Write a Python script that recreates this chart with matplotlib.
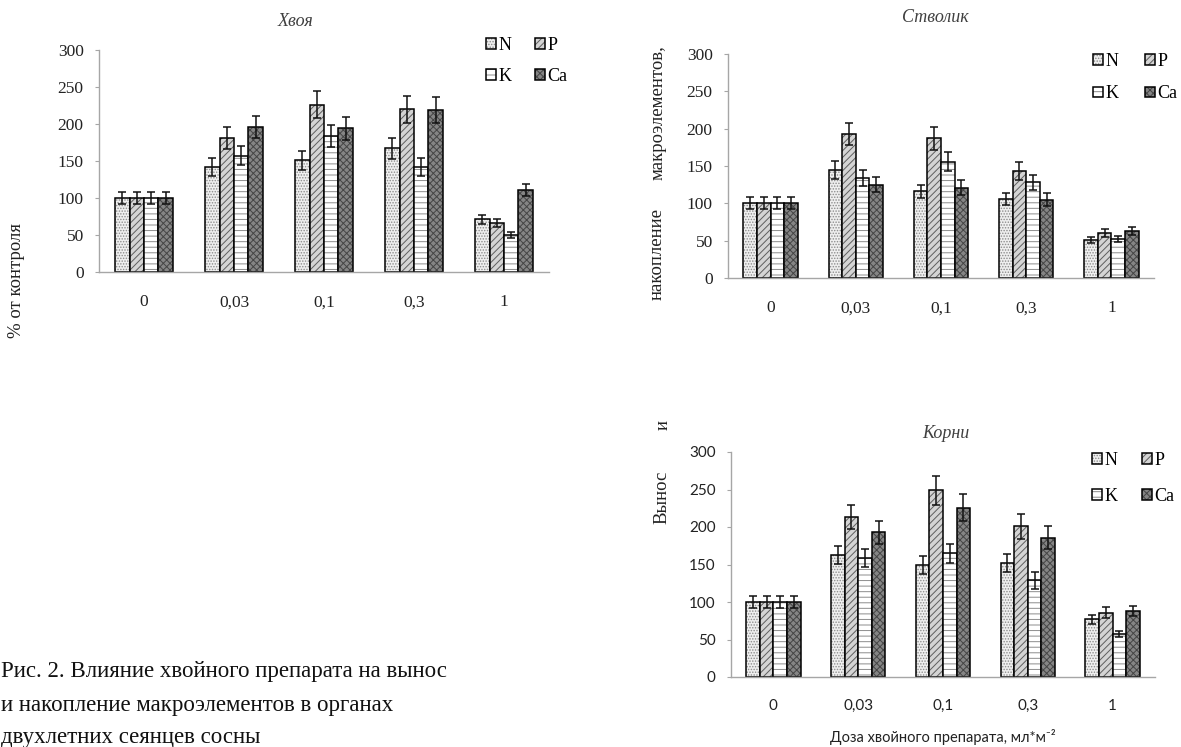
import matplotlib
matplotlib.use('Agg')
import matplotlib.pyplot as plt

# Категории (доза хвойного препарата, мл*м-2)
categories = ['0', '0,03', '0,1', '0,3', '1']
elements = ['N', 'P', 'K', 'Ca']

# Хвоя, % от контроля
needle_N = [100, 142, 151, 167, 71]
needle_P = [100, 181, 226, 220, 66]
needle_K = [100, 157, 184, 142, 50]
needle_Ca = [100, 196, 194, 219, 111]
needle_N_err = [8, 12, 13, 14, 6]
needle_P_err = [8, 15, 18, 18, 5]
needle_K_err = [8, 13, 15, 12, 4]
needle_Ca_err = [8, 15, 15, 17, 8]

# Стволик
stem_N = [100, 145, 116, 106, 51]
stem_P = [100, 193, 187, 143, 60]
stem_K = [100, 134, 156, 128, 52]
stem_Ca = [100, 125, 121, 105, 63]
stem_N_err = [8, 12, 9, 8, 4]
stem_P_err = [8, 15, 15, 12, 5]
stem_K_err = [8, 11, 13, 10, 4]
stem_Ca_err = [8, 10, 10, 9, 5]

# Корни
root_N = [100, 163, 149, 152, 77]
root_P = [100, 213, 249, 201, 86]
root_K = [100, 159, 165, 129, 57]
root_Ca = [100, 193, 226, 186, 88]
root_N_err = [8, 12, 12, 12, 6]
root_P_err = [8, 16, 19, 17, 7]
root_K_err = [8, 12, 13, 11, 4]
root_Ca_err = [8, 15, 18, 15, 7]

# Заливка и штриховка для каждого элемента: (фон, штриховка, цвет штриховки)
styles = [
    ('#efefef', '......', '#8c8c8c'),
    ('#d4d4d4', '/////', '#5e5e5e'),
    ('#ffffff', '---', '#8c8c8c'),
    ('#858585', 'xxxxx', '#454545'),
]

W, H = 1181, 747
SERIF = 'Liberation Serif'
SANS = 'Lato'

plt.rcParams['hatch.linewidth'] = 0.7


def fx(px):
    return px / W


def fy(py):
    return 1 - py / H


def draw_chart(fig, rect, series, errors, title, title_pos, legend_pos,
               legend_spacing, col_spacing, tick_font, tick_size):
    """Один график со сгруппированными столбцами и планками погрешностей"""
    left, top, right, bottom = rect
    ax = fig.add_axes([fx(left), fy(bottom), fx(right - left), (bottom - top) / H])
    width = 0.16
    x = list(range(len(categories)))
    handles = []
    for i, (vals, errs) in enumerate(zip(series, errors)):
        face, hatch, hcol = styles[i]
        pos = [xi + (i - 1.5) * width for xi in x]
        b1 = ax.bar(pos, vals, width, color=face, hatch=hatch,
                    edgecolor=hcol, linewidth=0)
        b2 = ax.bar(pos, vals, width, fill=False, edgecolor='black',
                    linewidth=1.1, yerr=errs, capsize=3,
                    error_kw=dict(elinewidth=1.1, capthick=1.1, ecolor='#111111'))
        handles.append((b1[0], b2[0]))

    ax.set_xlim(-0.5, len(categories) - 0.5)
    ax.set_ylim(0, 300)
    ax.set_yticks(range(0, 301, 50))
    ax.set_xticks(x)
    ax.set_xticklabels(categories)
    for s in ['top', 'right']:
        ax.spines[s].set_visible(False)
    for s in ['left', 'bottom']:
        ax.spines[s].set_color('#a6a6a6')
        ax.spines[s].set_linewidth(1)
    ax.tick_params(axis='y', length=3, color='#a6a6a6', pad=8)
    ax.tick_params(axis='x', length=0, pad=16)
    for lab in ax.get_xticklabels() + ax.get_yticklabels():
        lab.set_family(tick_font)
        lab.set_fontsize(tick_size)
        lab.set_color('#222222')

    fig.text(fx(title_pos[0]), fy(title_pos[1]), title, family=SERIF,
             style='italic', fontsize=13, color='#404040',
             ha='center', va='center')

    order = [0, 2, 1, 3]
    ax.legend([handles[k] for k in order], [elements[k] for k in order],
              ncol=2, frameon=False, loc='upper left',
              bbox_to_anchor=(fx(legend_pos[0]), fy(legend_pos[1])),
              bbox_transform=fig.transFigure, borderpad=0, borderaxespad=0,
              handlelength=0.55, handleheight=0.55, handletextpad=0.15,
              labelspacing=legend_spacing, columnspacing=col_spacing,
              prop={'family': SERIF, 'size': 13})
    return ax


fig = plt.figure(figsize=(W / 100, H / 100), dpi=100)

draw_chart(fig, (99, 50, 549, 272),
           [needle_N, needle_P, needle_K, needle_Ca],
           [needle_N_err, needle_P_err, needle_K_err, needle_Ca_err],
           'Хвоя', (295, 22), (486, 37), 0.75, 1.3, SERIF, 12.5)

draw_chart(fig, (728, 54, 1154, 278),
           [stem_N, stem_P, stem_K, stem_Ca],
           [stem_N_err, stem_P_err, stem_K_err, stem_Ca_err],
           'Стволик', (935, 17), (1093, 53), 0.85, 1.45, SERIF, 12.5)

draw_chart(fig, (731, 452, 1155, 677),
           [root_N, root_P, root_K, root_Ca],
           [root_N_err, root_P_err, root_K_err, root_Ca_err],
           'Корни', (946, 433), (1092, 452), 1.05, 1.35, SANS, 11)

# Подпись оси Y, разбитая на части, как в исходном документе
ylabel_parts = [
    ('% от контроля', 17, 280),
    ('макроэлементов,', 658, 113),
    ('накопление', 657, 254),
    ('и', 663, 425),
    ('Вынос', 662, 497),
]
for txt, px, py in ylabel_parts:
    fig.text(fx(px), fy(py), txt, family=SERIF, fontsize=13.5, rotation=90,
             ha='center', va='center', color='#222222')

fig.text(fx(943), fy(737), 'Доза хвойного препарата, мл*м⁻²',
         family=[SANS, 'DejaVu Sans'], fontsize=10.5, ha='center', va='center',
         color='#222222')

# Подпись к рисунку в левом нижнем углу
caption = [
    'Рис. 2. Влияние хвойного препарата на вынос',
    'и накопление макроэлементов в органах',
    'двухлетних сеянцев сосны',
]
for k, line in enumerate(caption):
    fig.text(fx(1), fy(672 + 33 * k), line, family=SERIF, fontsize=16.5,
             ha='left', va='center', color='#111111')

fig.savefig('out.png', dpi=100)
